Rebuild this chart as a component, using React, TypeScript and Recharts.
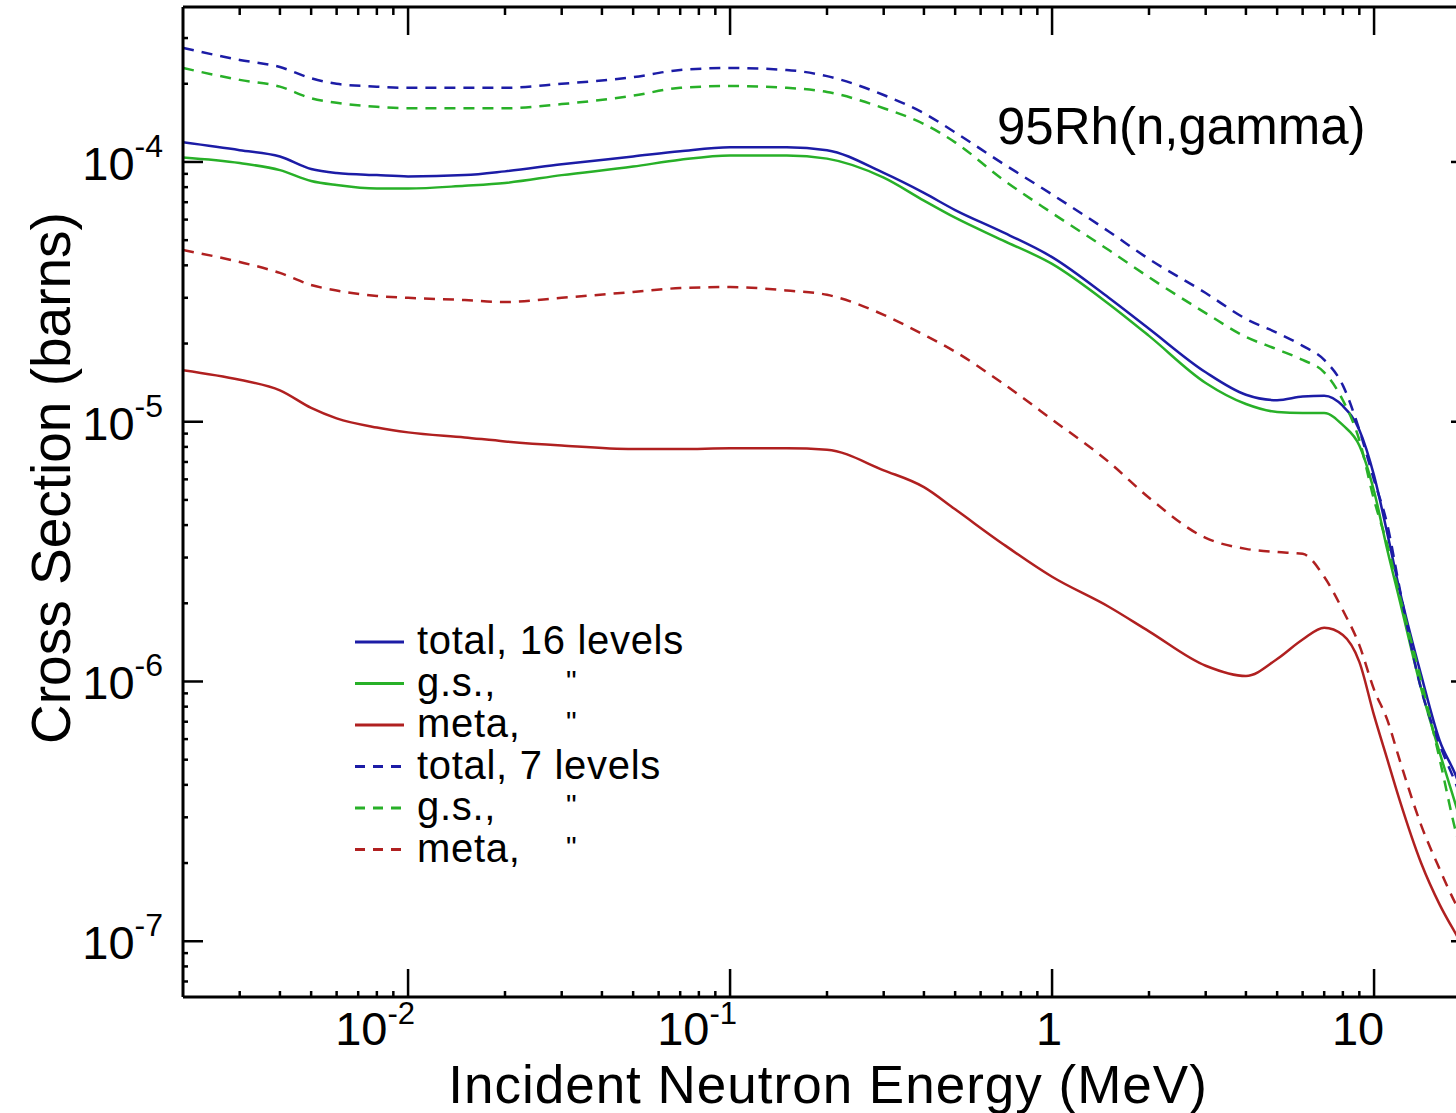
import React from 'react';
import { LineChart, Line, XAxis, YAxis, Legend } from 'recharts';

// incident neutron energy (MeV)
const energy = [
  0.002, 0.003, 0.004, 0.005, 0.006, 0.008, 0.01, 0.015, 0.02, 0.03, 0.05, 0.07,
  0.1, 0.15, 0.2, 0.3, 0.4, 0.5, 0.7, 1, 1.5, 2, 3, 4, 5, 6, 7, 8, 9, 10, 11, 12,
  14, 16, 18, 20,
];

// cross sections (barns), 16 levels
const total16 = [
  1.19e-4, 1.11e-4, 1.05e-4, 9.4e-5, 9.07e-5, 8.9e-5, 8.8e-5, 8.9e-5, 9.2e-5, 9.8e-5, 1.05e-4, 1.1e-4,
  1.14e-4, 1.14e-4, 1.11e-4, 9.07e-5, 7.6e-5, 6.53e-5, 5.38e-5, 4.3e-5, 3.0e-5, 2.28e-5, 1.55e-5, 1.27e-5,
  1.21e-5, 1.25e-5, 1.26e-5, 1.15e-5, 9.3e-6, 6.2e-6, 3.7e-6, 2.25e-6, 1.06e-6, 5.9e-7, 4.3e-7, 2.9e-7,
];
const gs16 = [
  1.04e-4, 9.9e-5, 9.3e-5, 8.45e-5, 8.15e-5, 7.9e-5, 7.9e-5, 8.1e-5, 8.3e-5, 8.9e-5, 9.6e-5, 1.02e-4,
  1.06e-4, 1.06e-4, 1.03e-4, 8.7e-5, 7.1e-5, 6.1e-5, 5.0e-5, 4.05e-5, 2.84e-5, 2.14e-5, 1.41e-5, 1.17e-5,
  1.09e-5, 1.08e-5, 1.08e-5, 9.7e-6, 8.1e-6, 5.4e-6, 3.2e-6, 2.06e-6, 9.4e-7, 5.3e-7, 3.3e-7, 2.2e-7,
];
const meta16 = [
  1.58e-5, 1.45e-5, 1.32e-5, 1.13e-5, 1.03e-5, 9.5e-6, 9.1e-6, 8.7e-6, 8.4e-6, 8.1e-6, 7.85e-6, 7.85e-6,
  7.9e-6, 7.9e-6, 7.8e-6, 6.5e-6, 5.6e-6, 4.6e-6, 3.4e-6, 2.53e-6, 1.94e-6, 1.56e-6, 1.15e-6, 1.05e-6,
  1.22e-6, 1.45e-6, 1.61e-6, 1.51e-6, 1.19e-6, 7.4e-7, 5.0e-7, 3.5e-7, 2.0e-7, 1.38e-7, 1.06e-7, 8.5e-8,
];

// 7 levels
const total7 = [
  2.75e-4, 2.47e-4, 2.32e-4, 2.1e-4, 2.0e-4, 1.95e-4, 1.93e-4, 1.93e-4, 1.93e-4, 2.0e-4, 2.12e-4, 2.26e-4,
  2.3e-4, 2.26e-4, 2.14e-4, 1.81e-4, 1.54e-4, 1.3e-4, 9.9e-5, 7.5e-5, 5.4e-5, 4.23e-5, 3.13e-5, 2.49e-5,
  2.2e-5, 1.96e-5, 1.73e-5, 1.38e-5, 9.3e-6, 5.96e-6, 4.0e-6, 2.29e-6, 9.35e-7, 5.7e-7, 4.0e-7, 2.8e-7,
];
const gs7 = [
  2.3e-4, 2.07e-4, 1.95e-4, 1.76e-4, 1.69e-4, 1.63e-4, 1.61e-4, 1.61e-4, 1.61e-4, 1.67e-4, 1.8e-4, 1.93e-4,
  1.96e-4, 1.93e-4, 1.86e-4, 1.61e-4, 1.4e-4, 1.19e-4, 8.6e-5, 6.36e-5, 4.58e-5, 3.6e-5, 2.62e-5, 2.12e-5,
  1.9e-5, 1.73e-5, 1.55e-5, 1.21e-5, 8.5e-6, 5.0e-6, 3.35e-6, 2.15e-6, 1.01e-6, 5.0e-7, 2.6e-7, 1.7e-7,
];
const meta7 = [
  4.58e-5, 4.12e-5, 3.74e-5, 3.36e-5, 3.2e-5, 3.05e-5, 3.0e-5, 2.94e-5, 2.89e-5, 3.0e-5, 3.16e-5, 3.27e-5,
  3.3e-5, 3.2e-5, 3.08e-5, 2.58e-5, 2.16e-5, 1.86e-5, 1.41e-5, 1.02e-5, 7.0e-6, 5.1e-6, 3.57e-6, 3.24e-6,
  3.15e-6, 3.1e-6, 2.53e-6, 1.88e-6, 1.38e-6, 9.3e-7, 7.1e-7, 5.0e-7, 2.8e-7, 1.89e-7, 1.38e-7, 1.11e-7,
];

const seriesKeys = ['t16', 'g16', 'm16', 't7', 'g7', 'm7'];
const seriesValues = [total16, gs16, meta16, total7, gs7, meta7];
const seriesNames = ['total, 16 levels', 'g.s.,', 'meta,', 'total, 7 levels', 'g.s.,', 'meta,'];
const seriesDitto = ['', '"', '"', '', '"', '"'];
const seriesColors = ['#1c1ca6', '#28b028', '#b02020', '#1c1ca6', '#28b028', '#b02020'];
const seriesDashed = [false, false, false, true, true, true];

const xMajorTicks = [0.01, 0.1, 1, 10];
const xTickLabels = [['10', '-2'], ['10', '-1'], ['1', ''], ['10', '']];
const xMinorTicks = [
  0.003, 0.004, 0.005, 0.006, 0.007, 0.008, 0.009,
  0.02, 0.03, 0.04, 0.05, 0.06, 0.07, 0.08, 0.09,
  0.2, 0.3, 0.4, 0.5, 0.6, 0.7, 0.8, 0.9,
  2, 3, 4, 5, 6, 7, 8, 9,
];
const yMajorTicks = [1e-7, 1e-6, 1e-5, 1e-4];
const yTickLabels = [['10', '-7'], ['10', '-6'], ['10', '-5'], ['10', '-4']];
const yMinorTicks = [
  7e-8, 8e-8, 9e-8,
  2e-7, 3e-7, 4e-7, 5e-7, 6e-7, 7e-7, 8e-7, 9e-7,
  2e-6, 3e-6, 4e-6, 5e-6, 6e-6, 7e-6, 8e-6, 9e-6,
  2e-5, 3e-5, 4e-5, 5e-5, 6e-5, 7e-5, 8e-5, 9e-5,
  2e-4, 3e-4,
];

const data = energy.map((e, i) => {
  const row: Record<string, number> = { e };
  seriesKeys.forEach((k, j) => { row[k] = seriesValues[j][i]; });
  return row;
});

const FONT = '"Liberation Sans", Arial, Helvetica, sans-serif';
const xTicks = [...xMinorTicks, ...xMajorTicks].sort((a, b) => a - b);
const yTicks = [...yMinorTicks, ...yMajorTicks].sort((a, b) => a - b);

const majorIndex = (v: number, majors: number[]) =>
  majors.findIndex((m) => Math.abs(v / m - 1) < 1e-6);

function BottomTick({ x, y, payload }: any) {
  const idx = majorIndex(payload.value, xMajorTicks);
  const major = idx >= 0;
  const [base, sup] = major ? xTickLabels[idx] : ['', ''];
  return (
    <g>
      <line x1={x} x2={x} y1={y} y2={y - (major ? 28 : 6)} stroke="#000" strokeWidth={2.5} />
      {major && (
        <text
          x={sup ? x + 7 : x - (base === '1' ? 3 : 16)}
          y={y + 48}
          textAnchor={sup ? 'end' : 'middle'}
          fontFamily={FONT}
          fontSize={47}
          fill="#000"
        >
          {base}
          {sup && <tspan fontSize={31} dy={-21}>{sup}</tspan>}
        </text>
      )}
    </g>
  );
}

function TopTick({ x, y, payload }: any) {
  const major = majorIndex(payload.value, xMajorTicks) >= 0;
  return <line x1={x} x2={x} y1={y} y2={y + (major ? 28 : 8)} stroke="#000" strokeWidth={2.5} />;
}

function LeftTick({ x, y, payload }: any) {
  const idx = majorIndex(payload.value, yMajorTicks);
  const major = idx >= 0;
  const [base, sup] = major ? yTickLabels[idx] : ['', ''];
  return (
    <g>
      <line x1={x} x2={x + (major ? 20 : 5)} y1={y} y2={y} stroke="#000" strokeWidth={2.5} />
      {major && (
        <text x={x - 20} y={y + 18} textAnchor="end" fontFamily={FONT} fontSize={47} fill="#000">
          {base}
          <tspan fontSize={32} dy={-23}>{sup}</tspan>
        </text>
      )}
    </g>
  );
}

function RightTick({ x, y, payload }: any) {
  const major = majorIndex(payload.value, yMajorTicks) >= 0;
  return <line x1={x} x2={x - (major ? 20 : 5)} y1={y} y2={y} stroke="#000" strokeWidth={2.5} />;
}

function LegendBox() {
  return (
    <svg width={400} height={260} style={{ display: 'block' }}>
      {seriesNames.map((name, i) => {
        const ry = 32 + i * 41.5;
        return (
          <g key={i}>
            <line
              x1={55}
              x2={104}
              y1={ry}
              y2={ry}
              stroke={seriesColors[i]}
              strokeWidth={3}
              strokeDasharray={seriesDashed[i] ? '10 8' : undefined}
            />
            <text
              x={117}
              y={ry + 12}
              fontFamily={FONT}
              fontSize={40}
              letterSpacing={0.7}
              fill="#000"
            >
              {name}
            </text>
            {seriesDitto[i] && (
              <text x={266} y={ry + 7} fontFamily={FONT} fontSize={30} fill="#000">
                {seriesDitto[i]}
              </text>
            )}
          </g>
        );
      })}
    </svg>
  );
}

const axisLine = { stroke: '#000', strokeWidth: 3 };

export default function App() {
  return (
    <div
      style={{
        position: 'absolute',
        left: 0,
        top: 0,
        width: 1456,
        height: 1113,
        overflow: 'hidden',
        background: '#fff',
      }}
    >
      <LineChart width={1500} height={1113} data={data} margin={{ top: 0, right: 0, bottom: 0, left: 0 }}>
        <XAxis
          xAxisId="b"
          orientation="bottom"
          dataKey="e"
          type="number"
          scale="log"
          domain={[0.002, 20]}
          allowDataOverflow
          ticks={xTicks}
          interval={0}
          tickSize={0}
          tickMargin={0}
          tickLine={false}
          axisLine={axisLine}
          tick={(p: any) => <BottomTick {...p} />}
          height={116}
        />
        <XAxis
          xAxisId="t"
          orientation="top"
          dataKey="e"
          type="number"
          scale="log"
          domain={[0.002, 20]}
          allowDataOverflow
          ticks={xTicks}
          interval={0}
          tickSize={0}
          tickMargin={0}
          tickLine={false}
          axisLine={axisLine}
          tick={(p: any) => <TopTick {...p} />}
          height={7}
        />
        <YAxis
          yAxisId="l"
          orientation="left"
          type="number"
          scale="log"
          domain={[6.1e-8, 3.95e-4]}
          allowDataOverflow
          ticks={yTicks}
          interval={0}
          tickSize={0}
          tickMargin={0}
          tickLine={false}
          axisLine={axisLine}
          tick={(p: any) => <LeftTick {...p} />}
          width={183}
        />
        <YAxis
          yAxisId="r"
          orientation="right"
          type="number"
          scale="log"
          domain={[6.1e-8, 3.95e-4]}
          allowDataOverflow
          ticks={yTicks}
          interval={0}
          tickSize={0}
          tickMargin={0}
          tickLine={false}
          axisLine={axisLine}
          tick={(p: any) => <RightTick {...p} />}
          width={29}
        />
        {seriesKeys.map((k, i) => (
          <Line
            key={k}
            xAxisId="b"
            yAxisId="l"
            dataKey={k}
            name={seriesNames[i]}
            type="monotone"
            stroke={seriesColors[i]}
            strokeWidth={2.5}
            strokeDasharray={seriesDashed[i] ? '11 8' : undefined}
            dot={false}
            activeDot={false}
            isAnimationActive={false}
          />
        ))}
        <Legend
          layout="horizontal"
          verticalAlign="middle"
          align="center"
          wrapperStyle={{ left: 300, top: 610, width: 400, height: 260 }}
          content={() => <LegendBox />}
        />
        <text x={997} y={144} fontFamily={FONT} fontSize={51} fill="#000">
          95Rh(n,gamma)
        </text>
        <text
          x={828}
          y={1103}
          textAnchor="middle"
          fontFamily={FONT}
          fontSize={53}
          letterSpacing={1}
          fill="#000"
        >
          Incident Neutron Energy (MeV)
        </text>
        <text
          x={70}
          y={478}
          transform="rotate(-90 70 478)"
          textAnchor="middle"
          fontFamily={FONT}
          fontSize={55}
          fill="#000"
        >
          Cross Section (barns)
        </text>
      </LineChart>
    </div>
  );
}
